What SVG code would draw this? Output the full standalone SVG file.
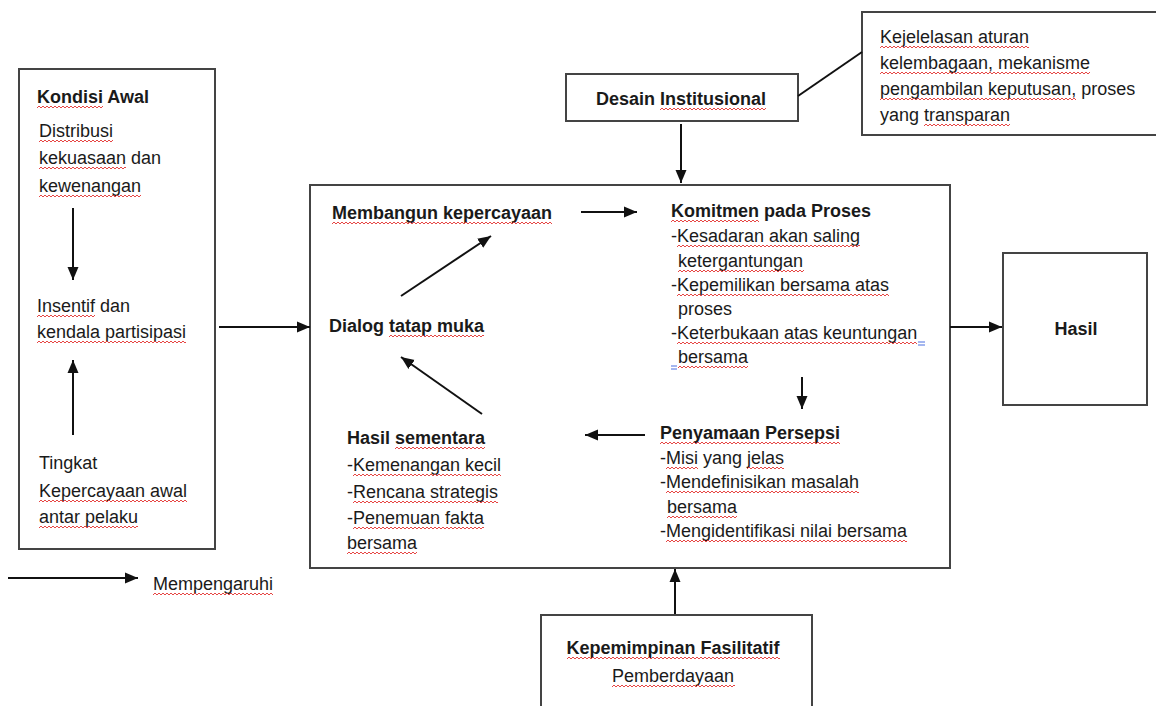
<svg xmlns="http://www.w3.org/2000/svg" width="1156" height="706" viewBox="0 0 1156 706">
<style>
text{font-family:"Liberation Sans",Arial,sans-serif;font-size:18px;fill:#1a1a1a}
.b{font-weight:bold}
.m{text-anchor:middle}
.sq{fill:url(#wave)}
.box{fill:#fff;stroke:#444;stroke-width:2}
.c{stroke:#111;stroke-width:2;fill:none}
.ah{marker-end:url(#ar)}
.bl{stroke:#4a6fe0;stroke-width:1}
</style>
<defs>
<marker id="ar" markerUnits="userSpaceOnUse" markerWidth="14" markerHeight="14" viewBox="0 0 14 14" refX="13" refY="7" orient="auto">
<path d="M0,1.5 L13,7 L0,12.5 Z" fill="#111"/>
</marker>
<pattern id="wave" patternUnits="userSpaceOnUse" width="4" height="4">
<path d="M-1,2 L0,3 L2,1 L4,3 L5,2" fill="none" stroke="#e3312f" stroke-width="0.9"/>
</pattern>
</defs>
<rect width="1156" height="706" fill="#fff"/>

<g id="kondisi-awal">
<rect class="box" x="19" y="69" width="196" height="480"/>
<text x="37" y="103" class="b">Kondisi Awal</text>
<text x="39" y="137">Distribusi</text>
<text x="39" y="164">kekuasaan dan</text>
<text x="39" y="192">kewenangan</text>
<text x="37" y="312">Insentif dan</text>
<text x="37" y="338">kendala partisipasi</text>
<text x="39" y="469">Tingkat</text>
<text x="39" y="497">Kepercayaan awal</text>
<text x="39" y="523">antar pelaku</text>
<rect class="sq" transform="translate(37,105)" width="66" height="4"/>
<rect class="sq" transform="translate(39,139)" width="74" height="4"/>
<rect class="sq" transform="translate(39,166)" width="87" height="4"/>
<rect class="sq" transform="translate(39,194)" width="102" height="4"/>
<rect class="sq" transform="translate(37,314)" width="58" height="4"/>
<rect class="sq" transform="translate(37,340)" width="149" height="4"/>
<rect class="sq" transform="translate(39,499)" width="148" height="4"/>
<rect class="sq" transform="translate(39,525)" width="99" height="4"/>
</g>

<g id="desain-institusional">
<rect class="box" x="566" y="74" width="232" height="47"/>
<text x="681" y="105" class="b m">Desain Institusional</text>
<rect class="sq" transform="translate(660,107)" width="106" height="4"/>
</g>

<g id="keterangan-desain">
<rect class="box" x="862" y="12" width="300" height="123"/>
<text x="880" y="43">Kejelelasan aturan</text>
<text x="880" y="69">kelembagaan, mekanisme</text>
<text x="880" y="95">pengambilan keputusan, proses</text>
<text x="880" y="121">yang transparan</text>
<rect class="sq" transform="translate(880,45)" width="149" height="4"/>
<rect class="sq" transform="translate(880,71)" width="210" height="4"/>
<rect class="sq" transform="translate(880,97)" width="196" height="4"/>
<rect class="sq" transform="translate(924,123)" width="86" height="4"/>
</g>

<g id="proses-kolaborasi">
<rect class="box" x="310" y="185" width="640" height="383"/>
</g>

<g id="membangun-kepercayaan">
<text x="332" y="219" class="b">Membangun kepercayaan</text>
<rect class="sq" transform="translate(332,221)" width="220" height="4"/>
</g>

<g id="dialog-tatap-muka">
<text x="329" y="332" class="b">Dialog tatap muka</text>
<rect class="sq" transform="translate(389,334)" width="95" height="4"/>
</g>

<g id="komitmen">
<text x="671" y="217" class="b">Komitmen pada Proses</text>
<text x="671" y="242">-Kesadaran akan saling</text>
<text x="678" y="267">ketergantungan</text>
<text x="671" y="291">-Kepemilikan bersama atas</text>
<text x="678" y="315">proses</text>
<text x="671" y="339">-Keterbukaan atas keuntungan</text>
<text x="678" y="363">bersama</text>
<rect class="sq" transform="translate(671,219)" width="88" height="4"/>
<rect class="sq" transform="translate(677,244)" width="183" height="4"/>
<rect class="sq" transform="translate(678,269)" width="126" height="4"/>
<rect class="sq" transform="translate(677,293)" width="212" height="4"/>
<rect class="sq" transform="translate(677,341)" width="240" height="4"/>
<rect class="sq" transform="translate(678,365)" width="70" height="4"/>
<line class="bl" x1="918" y1="342" x2="925" y2="342"/>
<line class="bl" x1="918" y1="345" x2="925" y2="345"/>
<line class="bl" x1="671" y1="366" x2="677" y2="366"/>
<line class="bl" x1="671" y1="369" x2="677" y2="369"/>
</g>

<g id="penyamaan-persepsi">
<text x="660" y="439" class="b">Penyamaan Persepsi</text>
<text x="660" y="464">-Misi yang jelas</text>
<text x="660" y="488">-Mendefinisikan masalah</text>
<text x="667" y="513">bersama</text>
<text x="660" y="537">-Mengidentifikasi nilai bersama</text>
<rect class="sq" transform="translate(660,441)" width="180" height="4"/>
<rect class="sq" transform="translate(666,466)" width="32" height="4"/>
<rect class="sq" transform="translate(747,466)" width="37" height="4"/>
<rect class="sq" transform="translate(666,490)" width="193" height="4"/>
<rect class="sq" transform="translate(667,515)" width="70" height="4"/>
<rect class="sq" transform="translate(666,539)" width="241" height="4"/>
</g>

<g id="hasil-sementara">
<text x="347" y="444" class="b">Hasil sementara</text>
<text x="347" y="471">-Kemenangan kecil</text>
<text x="347" y="498">-Rencana strategis</text>
<text x="347" y="524">-Penemuan fakta</text>
<text x="347" y="549">bersama</text>
<rect class="sq" transform="translate(395,446)" width="90" height="4"/>
<rect class="sq" transform="translate(353,473)" width="148" height="4"/>
<rect class="sq" transform="translate(353,500)" width="145" height="4"/>
<rect class="sq" transform="translate(353,526)" width="131" height="4"/>
<rect class="sq" transform="translate(347,551)" width="70" height="4"/>
</g>

<g id="hasil">
<rect class="box" x="1003" y="253" width="144" height="152"/>
<text x="1076" y="335" class="b m">Hasil</text>
</g>

<g id="kepemimpinan-fasilitatif">
<rect class="box" x="541" y="615" width="271" height="100"/>
<text x="673" y="654" class="b m">Kepemimpinan Fasilitatif</text>
<text x="673" y="682" class="m">Pemberdayaan</text>
<rect class="sq" transform="translate(567,656)" width="213" height="4"/>
<rect class="sq" transform="translate(612,684)" width="123" height="4"/>
</g>

<g id="legenda">
<line class="c ah" x1="8" y1="578" x2="138" y2="578"/>
<text x="153" y="590">Mempengaruhi</text>
<rect class="sq" transform="translate(153,592)" width="120" height="4"/>
</g>

<g id="connectors">
<line class="c ah" x1="73" y1="208" x2="73" y2="280"/>
<line class="c ah" x1="73" y1="435" x2="73" y2="360"/>
<line class="c ah" x1="219" y1="327" x2="310" y2="327"/>
<line class="c" x1="798" y1="96" x2="862" y2="52"/>
<line class="c ah" x1="681" y1="124" x2="681" y2="183"/>
<line class="c ah" x1="581" y1="212" x2="637" y2="212"/>
<line class="c ah" x1="802" y1="377" x2="802" y2="409"/>
<line class="c ah" x1="645" y1="435" x2="585" y2="435"/>
<line class="c ah" x1="482" y1="414" x2="401" y2="357"/>
<line class="c ah" x1="401" y1="296" x2="491" y2="236"/>
<line class="c ah" x1="950" y1="327" x2="1002" y2="327"/>
<line class="c ah" x1="675" y1="614" x2="675" y2="569"/>
</g>
</svg>
